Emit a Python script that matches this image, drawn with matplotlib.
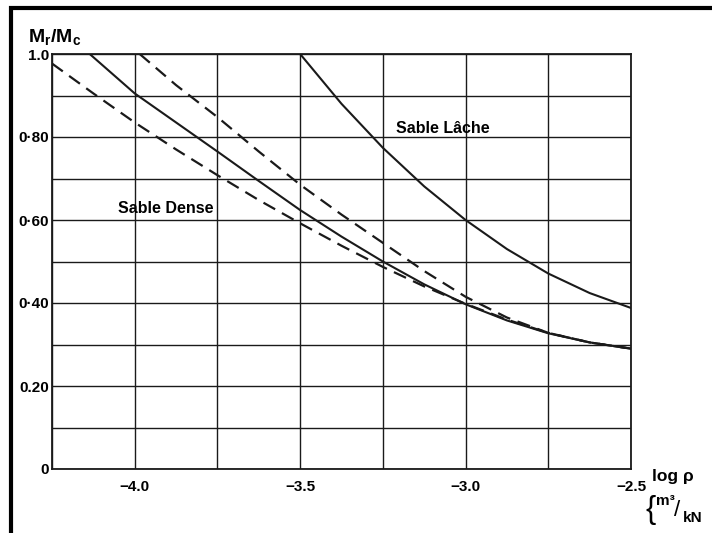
import numpy as np
import matplotlib.pyplot as plt
from matplotlib.patches import Rectangle

plt.rcParams['font.family'] = ['Liberation Sans', 'DejaVu Sans']
plt.rcParams['mathtext.fontset'] = 'custom'
plt.rcParams['mathtext.rm'] = 'Liberation Sans:bold'
plt.rcParams['mathtext.it'] = 'Liberation Sans:bold'
plt.rcParams['mathtext.bf'] = 'Liberation Sans:bold'

# Sable Lache (solid)
x_lache = [-3.5, -3.375, -3.25, -3.125, -3.0, -2.875, -2.75, -2.625, -2.5]
y_lache = [1.0, 0.88, 0.774, 0.681, 0.60, 0.53, 0.471, 0.424, 0.388]

# Sable Dense (solid)
x_dense = [-4.136, -4.0, -3.875, -3.75, -3.625, -3.5, -3.375, -3.25, -3.125,
           -3.0, -2.875, -2.75, -2.625, -2.5]
y_dense = [1.0, 0.905, 0.835, 0.765, 0.694, 0.624, 0.56, 0.50, 0.445,
           0.397, 0.358, 0.327, 0.305, 0.29]

# Sable Dense upper bound (dashed)
x_dense_up = [-3.985, -3.875, -3.75, -3.625, -3.5, -3.375, -3.25, -3.125,
              -3.0, -2.875, -2.75, -2.625, -2.5]
y_dense_up = [1.0, 0.925, 0.848, 0.765, 0.685, 0.613, 0.545, 0.477,
              0.415, 0.365, 0.328, 0.305, 0.29]

# Sable Dense lower bound (dashed)
x_dense_lo = [-4.25, -4.125, -4.0, -3.875, -3.75, -3.625, -3.5, -3.375, -3.25,
              -3.125, -3.0, -2.875, -2.75, -2.625, -2.5]
y_dense_lo = [0.977, 0.905, 0.835, 0.77, 0.708, 0.648, 0.592, 0.538, 0.487,
              0.44, 0.398, 0.36, 0.328, 0.305, 0.29]

xticks = [-4.0, -3.5, -3.0, -2.5]
xtick_labels = ['\u22124.0', '\u22123.5', '\u22123.0', '\u22122.5']
yticks = [0, 0.2, 0.4, 0.6, 0.8, 1.0]
ytick_labels = ['0', '0.20', '0\u00b740', '0\u00b760', '0\u00b780', '1.0']

fig = plt.figure(figsize=(7.12, 5.33), dpi=100)
ax = fig.add_axes([52/712, 1 - 469/533, (631 - 52)/712, (469 - 54)/533])

ink = '#1a1a1a'
ax.plot(x_lache, y_lache, color=ink, lw=1.5)
ax.plot(x_dense, y_dense, color=ink, lw=1.5)
ax.plot(x_dense_up, y_dense_up, color=ink, lw=1.6, linestyle=(0, (6, 3.5)))
ax.plot(x_dense_lo, y_dense_lo, color=ink, lw=1.6, linestyle=(0, (6, 3.5)))

ax.set_xlim(-4.25, -2.5)
ax.set_ylim(0, 1.0)
ax.set_xticks(xticks)
ax.set_xticklabels(xtick_labels, fontweight='bold', fontsize=11)
ax.set_xticks(np.arange(-4.25, -2.49, 0.25), minor=True)
ax.set_yticks(yticks)
ax.set_yticklabels(ytick_labels, fontweight='bold', fontsize=11)
ax.set_yticks(np.arange(0, 1.01, 0.1), minor=True)
ax.tick_params(which='both', length=0)
ax.tick_params(axis='x', pad=8)
ax.tick_params(axis='y', pad=2)
ax.grid(which='both', color=ink, lw=1.0)
for s in ax.spines.values():
    s.set_linewidth(1.3)
    s.set_color(ink)

ax.text(-3.211, 0.82, 'Sable L\u00e2che', fontsize=11.5, fontweight='bold',
        va='center', ha='left')
ax.text(-4.051, 0.627, 'Sable Dense', fontsize=11.5, fontweight='bold',
        va='center', ha='left')

# axis titles
fig.text(28/712, 1 - 37/533, r'$\mathrm{M_r/M_c}$', fontsize=14, va='center', ha='left')
fig.text(652/712, 1 - 477/533, 'log \u03c1', fontsize=12.5, fontweight='bold',
         va='center', ha='left')
fig.text(645/712, 1 - 510/533, '{', fontsize=22, va='center', ha='left')
fig.text(656/712, 1 - 501/533, 'm\u00b3', fontsize=11, fontweight='bold',
         va='center', ha='left')
fig.text(674/712, 1 - 510/533, '/', fontsize=16, va='center', ha='left')
fig.text(683/712, 1 - 518/533, 'kN', fontsize=11, fontweight='bold',
         va='center', ha='left')

# outer border
fig.patches.append(Rectangle((11/712, -0.2), 1.2, 1 - 8/533 + 0.2, fill=False,
                             lw=3, edgecolor='black', transform=fig.transFigure))

fig.savefig('out.png', dpi=100)
